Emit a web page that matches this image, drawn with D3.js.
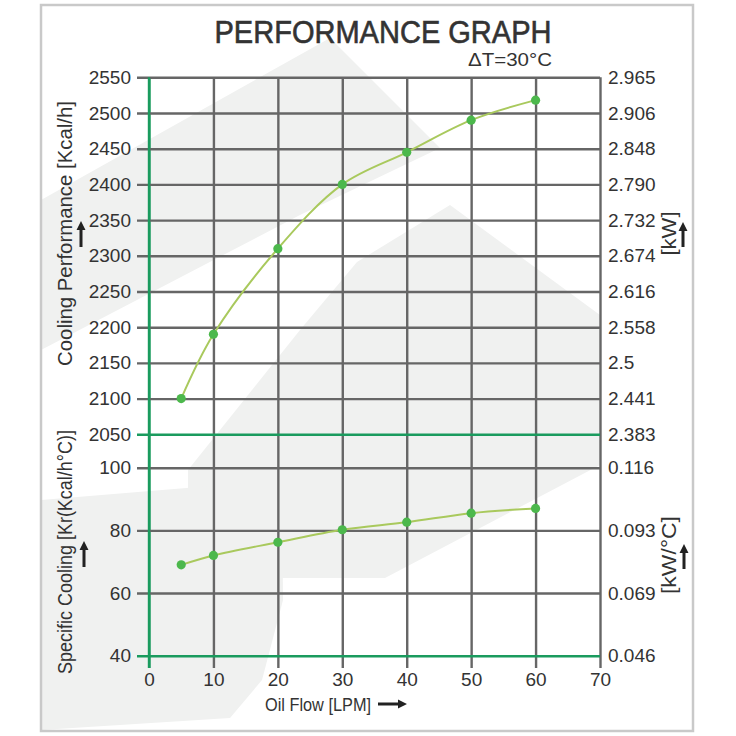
<!DOCTYPE html>
<html>
<head>
<meta charset="utf-8">
<script src="https://cdnjs.cloudflare.com/ajax/libs/d3/7.8.5/d3.min.js"></script>
<style>
  body { margin: 0; background: #fff; }
  svg text { font-family: 'Liberation Sans Narrow', 'Liberation Sans', Arial, sans-serif; fill: #333; }
</style>
</head>
<body>
<div id="chart"></div>
<script>
  // oil flow [LPM] at the measured points
  var flow = [5, 10, 20, 30, 40, 50, 60];
  // cooling performance [Kcal/h]
  var cooling = [2100, 2190, 2310, 2400, 2445, 2490, 2518];
  // specific cooling Kr [Kcal/h°C]
  var specific = [69, 72, 76.2, 80.2, 82.6, 85.5, 87];

  var flowTicks = [0, 10, 20, 30, 40, 50, 60, 70];
  var coolTicks = [2050, 2100, 2150, 2200, 2250, 2300, 2350, 2400, 2450, 2500, 2550];
  var kwLabels = ['2.383', '2.441', '2.5', '2.558', '2.616', '2.674', '2.732', '2.790', '2.848', '2.906', '2.965'];
  var specTicks = [40, 60, 80, 100];
  var kwcLabels = ['0.046', '0.069', '0.093', '0.116'];

  // light logo shapes behind the grid
  var watermark = [
    [[41, 200], [330, 38], [440, 148], [300, 215], [41, 350]],
    [[357, 262], [450, 205], [600, 315], [600, 465], [385, 578], [188, 578], [188, 470], [300, 330]],
    [[41, 500], [282, 480], [283, 600], [262, 680], [230, 718], [41, 730]]
  ];

  var W = 736, H = 736,
      gray = '#666',
      green = '#1a9b5e';

  var svg = d3.select('#chart')
    .append('svg')
    .attr('width', W)
    .attr('height', H);

  var x = d3.scaleLinear().domain([0, 70]).range([149, 600]);
  var yTop = d3.scaleLinear().domain([2050, 2550]).range([434.3, 77.3]);
  var yBot = d3.scaleLinear().domain([40, 100]).range([655.7, 467.7]);

  svg.selectAll('path.wm')
    .data(watermark)
    .enter().append('path')
    .attr('class', 'wm')
    .attr('d', function(d) { return 'M' + d.join('L') + 'Z'; })
    .attr('fill', '#f0f1f0');

  svg.append('rect')
    .attr('x', 41).attr('y', 5)
    .attr('width', 652).attr('height', 726)
    .attr('fill', 'none')
    .attr('stroke', '#c9c9c9')
    .attr('stroke-width', 2.5);

  /**
   * Styles an axis: grid lines gray, the one at `base` green.
   */
  function styleAxis(g, base) {
    g.select('.domain').remove();
    g.selectAll('.tick line')
      .attr('stroke', function(d) { return d === base ? green : gray; })
      .attr('stroke-width', 2.4);
    g.selectAll('.tick text')
      .attr('font-size', 19)
      .attr('fill', '#333');
    // green lines on top
    g.selectAll('.tick').filter(function(d) { return d === base; }).raise();
  }

  var grid = svg.append('g'),
      plain = d3.format('d');

  grid.append('g')
    .attr('transform', 'translate(0,77.3)')
    .call(d3.axisBottom(x).tickValues(flowTicks).tickSize(590.7).tickPadding(5).tickFormat(plain))
    .call(styleAxis, 0);

  grid.append('g')
    .attr('transform', 'translate(600,0)')
    .call(d3.axisLeft(yTop).tickValues(coolTicks).tickSize(463).tickPadding(6).tickFormat(plain))
    .call(styleAxis, 2050);

  grid.append('g')
    .attr('transform', 'translate(600,0)')
    .call(d3.axisLeft(yBot).tickValues(specTicks).tickSize(463).tickPadding(6).tickFormat(plain))
    .call(styleAxis, 40);

  grid.append('g')
    .attr('transform', 'translate(600,0)')
    .call(d3.axisRight(yTop).tickValues(coolTicks).tickSize(0).tickPadding(8)
      .tickFormat(function(d, i) { return kwLabels[i]; }))
    .call(styleAxis, null);

  grid.append('g')
    .attr('transform', 'translate(600,0)')
    .call(d3.axisRight(yBot).tickValues(specTicks).tickSize(0).tickPadding(8)
      .tickFormat(function(d, i) { return kwcLabels[i]; }))
    .call(styleAxis, null);

  // vertical green axis at 0 over the horizontal lines
  grid.append('line')
    .attr('x1', x(0)).attr('x2', x(0))
    .attr('y1', 77.3).attr('y2', 668)
    .attr('stroke', green)
    .attr('stroke-width', 2.4);

  // curves
  function series(values, y) {
    var pts = flow.map(function(f, i) { return [x(f), y(values[i])]; });
    svg.append('path')
      .attr('d', d3.line().curve(d3.curveCatmullRom.alpha(0.5))(pts))
      .attr('fill', 'none')
      .attr('stroke', '#a9c95d')
      .attr('stroke-width', 2);
    svg.selectAll(null)
      .data(pts)
      .enter().append('circle')
      .attr('cx', function(d) { return d[0]; })
      .attr('cy', function(d) { return d[1]; })
      .attr('r', 4.6)
      .attr('fill', '#4cb84c');
  }
  series(cooling, yTop);
  series(specific, yBot);

  // titles
  svg.append('text')
    .attr('x', 383).attr('y', 43)
    .attr('text-anchor', 'middle')
    .attr('font-size', 31)
    .attr('textLength', 337)
    .attr('lengthAdjust', 'spacingAndGlyphs')
    .attr('stroke', '#333')
    .attr('stroke-width', 0.6)
    .style('font-family', "'Liberation Sans', Arial, sans-serif")
    .text('PERFORMANCE GRAPH');

  svg.append('text')
    .attr('x', 552).attr('y', 66)
    .attr('text-anchor', 'end')
    .attr('font-size', 18)
    .attr('textLength', 84)
    .attr('lengthAdjust', 'spacingAndGlyphs')
    .style('font-family', "'Liberation Sans', Arial, sans-serif")
    .text('\u0394T=30\u00b0C');

  /**
   * Rotated axis title, centred at (cx, cy), baseline on the right.
   */
  function vLabel(txt, cx, cy, len) {
    svg.append('text')
      .attr('transform', 'translate(' + cx + ',' + cy + ') rotate(-90)')
      .attr('text-anchor', 'middle')
      .attr('font-size', 21)
      .attr('textLength', len)
      .attr('lengthAdjust', 'spacingAndGlyphs')
      .text(txt);
  }
  vLabel('Cooling Performance [Kcal/h]', 72, 233.5, 265);
  vLabel('Specific Cooling [Kr(Kcal/h\u00b0C)]', 72, 552, 244);
  vLabel('[kW]', 676, 233.5, 44);
  vLabel('[kW/\u00b0C]', 676, 555, 78);

  svg.append('text')
    .attr('x', 318).attr('y', 711)
    .attr('text-anchor', 'middle')
    .attr('font-size', 19)
    .attr('textLength', 106)
    .attr('lengthAdjust', 'spacingAndGlyphs')
    .text('Oil Flow [LPM]');

  /**
   * Solid arrow, tail at (x0,y0), pointing by angle (deg, 0 = right).
   */
  function arrow(x0, y0, len, angle) {
    svg.append('path')
      .attr('transform', 'translate(' + x0 + ',' + y0 + ') rotate(' + angle + ')')
      .attr('d', 'M0,-1.5L' + (len - 9) + ',-1.5L' + (len - 9) + ',-4.5L' + len + ',0L' +
        (len - 9) + ',4.5L' + (len - 9) + ',1.5L0,1.5Z')
      .attr('fill', '#222');
  }
  arrow(81, 247, 26, -90);
  arrow(84, 567, 26, -90);
  arrow(683, 247, 25, -90);
  arrow(684, 569, 25, -90);
  arrow(378, 704, 29, 0);
</script>
</body>
</html>
